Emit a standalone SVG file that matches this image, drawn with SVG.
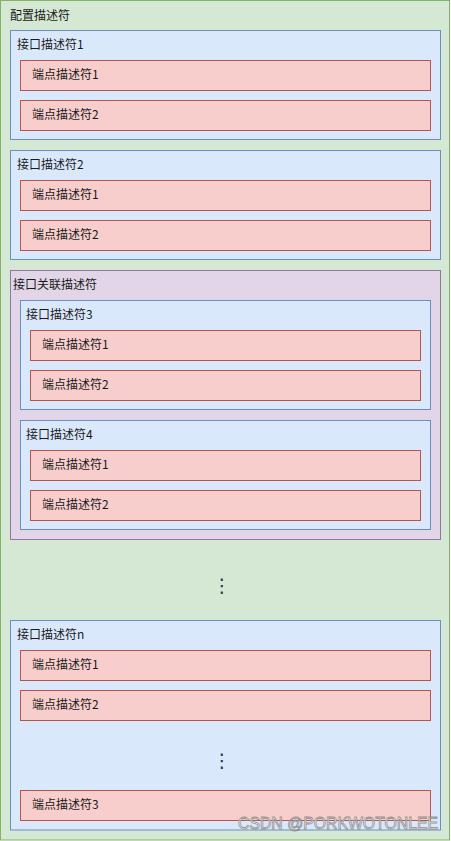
<svg xmlns="http://www.w3.org/2000/svg" width="451" height="841" viewBox="0 0 451 841">
<style>
text{font-family:"Noto Sans CJK SC","Microsoft YaHei","Liberation Sans",sans-serif;font-size:12px;fill:#1a1a1a}
.cfg{fill:#d5e8d4;stroke:#82b366}
.itf{fill:#dae8fc;stroke:#6c8ebf}
.ep{fill:#f8cecc;stroke:#b85450}
.asc{fill:#e1d5e7;stroke:#9673a6}
.dots{font-family:"DejaVu Sans",sans-serif;font-size:19px;text-anchor:middle;fill:#333}
.wm{font-family:"Liberation Sans",Arial,sans-serif;font-size:15.8px;fill:#ffffff;stroke:#8a8a8a;stroke-width:0.8;opacity:0.9}
</style>
<g id="config">
<rect class="cfg" x="0.5" y="0.5" width="449" height="839.5"/>
<text x="10" y="19.5">配置描述符</text>
</g>
<g id="interface1">
<rect class="itf" x="10.5" y="30.5" width="430" height="109"/>
<text x="17" y="49">接口描述符1</text>
<g id="if1-ep1"><rect class="ep" x="20.5" y="60.5" width="410" height="30"/><text x="32" y="79">端点描述符1</text></g>
<g id="if1-ep2"><rect class="ep" x="20.5" y="100.5" width="410" height="30"/><text x="32" y="119">端点描述符2</text></g>
</g>
<g id="interface2">
<rect class="itf" x="10.5" y="150.5" width="430" height="109"/>
<text x="17" y="169">接口描述符2</text>
<g id="if2-ep1"><rect class="ep" x="20.5" y="180.5" width="410" height="30"/><text x="32" y="199">端点描述符1</text></g>
<g id="if2-ep2"><rect class="ep" x="20.5" y="220.5" width="410" height="30"/><text x="32" y="239">端点描述符2</text></g>
</g>
<g id="association">
<rect class="asc" x="10.5" y="270.5" width="430" height="269"/>
<text x="13" y="289">接口关联描述符</text>
<g id="interface3">
<rect class="itf" x="20.5" y="300.5" width="410" height="109"/>
<text x="26" y="319">接口描述符3</text>
<g id="if3-ep1"><rect class="ep" x="30.5" y="330.5" width="390" height="30"/><text x="42" y="349">端点描述符1</text></g>
<g id="if3-ep2"><rect class="ep" x="30.5" y="370.5" width="390" height="30"/><text x="42" y="389">端点描述符2</text></g>
</g>
<g id="interface4">
<rect class="itf" x="20.5" y="420.5" width="410" height="109"/>
<text x="26" y="439">接口描述符4</text>
<g id="if4-ep1"><rect class="ep" x="30.5" y="450.5" width="390" height="30"/><text x="42" y="469">端点描述符1</text></g>
<g id="if4-ep2"><rect class="ep" x="30.5" y="490.5" width="390" height="30"/><text x="42" y="509">端点描述符2</text></g>
</g>
</g>
<g id="ellipsis1"><text class="dots" x="222" y="592">⋮</text></g>
<g id="interfacen">
<rect class="itf" x="10.5" y="620.5" width="430" height="209.5"/>
<text x="17" y="639">接口描述符n</text>
<g id="ifn-ep1"><rect class="ep" x="20.5" y="650.5" width="410" height="30"/><text x="32" y="669">端点描述符1</text></g>
<g id="ifn-ep2"><rect class="ep" x="20.5" y="690.5" width="410" height="30"/><text x="32" y="709">端点描述符2</text></g>
<g id="ellipsis2"><text class="dots" x="222" y="767">⋮</text></g>
<g id="ifn-ep3"><rect class="ep" x="20.5" y="790.5" width="410" height="30"/><text x="32" y="809">端点描述符3</text></g>
</g>
<g id="connectors"/>
<text class="wm" x="238" y="829">CSDN @PORKWOTONLEE</text>
</svg>
